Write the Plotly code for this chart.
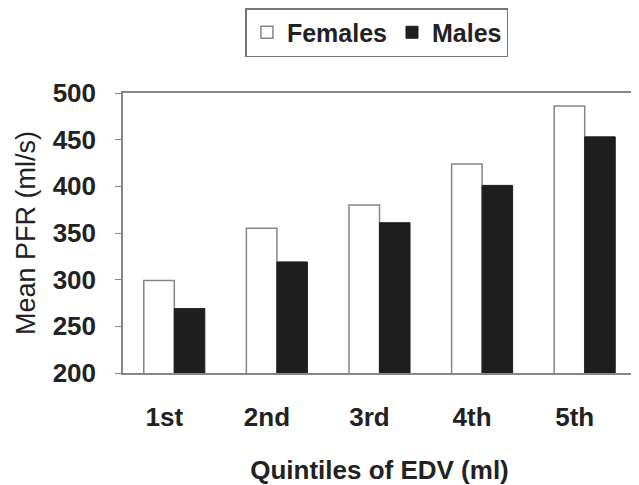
import plotly.graph_objects as go

categories = ["1st", "2nd", "3rd", "4th", "5th"]
females = [299, 355, 380, 424, 486]
males = [269, 319, 361, 401, 453]

fig = go.Figure()
fig.add_trace(go.Bar(x=categories, y=females, name="Females",
                     marker=dict(color="white", line=dict(color="#8c8484", width=1.5))))
fig.add_trace(go.Bar(x=categories, y=males, name="Males",
                     marker=dict(color="#1e1e1e", line=dict(color="#1e1e1e", width=1))))

font_family = "Liberation Sans, Arial, sans-serif"
fig.update_layout(
    width=631, height=477,
    margin=dict(l=115, r=3, t=85, b=112, autoexpand=False),
    paper_bgcolor="white", plot_bgcolor="white",
    barmode="group", bargap=0.405, bargroupgap=0,
    font=dict(family=font_family, color="#222222"),
    showlegend=True,
    legend=dict(orientation="h", x=0.495, y=1.0, xref="paper", yref="container",
                xanchor="center", yanchor="top",
                bordercolor="#7a7474", borderwidth=1.5,
                font=dict(size=25, family=font_family, weight="bold", color="#222222"),
                itemwidth=30, tracegroupgap=0),
    xaxis=dict(showline=True, linecolor="#8c8484", linewidth=1.5, mirror=True,
               automargin=False,
               ticks="", tickfont=dict(size=26, weight="bold", color="#222222"),
               ticklabelstandoff=20, ticklabelshift=-10,
               title=dict(text="Quintiles of EDV (ml)", font=dict(size=26, weight="bold", color="#222222"),
                          standoff=32)),
    yaxis=dict(range=[200, 500], dtick=50, showline=True, linecolor="#8c8484", linewidth=1.5,
               mirror=True, ticks="outside", ticklen=6, tickcolor="#8c8484",
               showgrid=False, zeroline=False, automargin=False,
               tickfont=dict(size=26, weight="bold", color="#222222"),
               ticklabelstandoff=14,
               title=dict(text="Mean PFR (ml/s)", font=dict(size=27, color="#222222"), standoff=9)),
)

fig.write_html("out.html")
